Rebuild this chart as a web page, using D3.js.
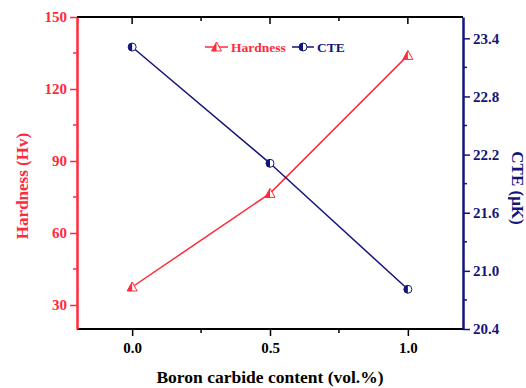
<!DOCTYPE html>
<html>
<head>
<meta charset="utf-8">
<script src="https://cdn.jsdelivr.net/npm/d3@7"></script>
<style>
body { margin: 0; background: #fff; }
text { font-family: "Liberation Serif", "Times New Roman", serif; font-weight: bold; }
</style>
</head>
<body>
<div id="chart"></div>
<script>
var contents = [0.0, 0.5, 1.0];
var hardness = [37.5, 76.5, 134];
var cte = [23.31, 22.11, 20.81];
var xTicks = [0.0, 0.5, 1.0];
var hardTicks = [30, 60, 90, 120, 150];
var cteTicks = [20.4, 21.0, 21.6, 22.2, 22.8, 23.4];

var red = "#ff2a3c",
    navy = "#14147a";

var w = 526, h = 388;
var margin = { top: 17, right: 63, bottom: 59, left: 77 };

var svg = d3.select("#chart").append("svg")
    .attr("width", w)
    .attr("height", h);

var xScale = d3.scaleLinear()
    .domain([-0.2, 1.2])
    .range([margin.left, w - margin.right]);
var yLeft = d3.scaleLinear()
    .domain([20, 150])
    .range([h - margin.bottom, margin.top]);
var yRight = d3.scaleLinear()
    .domain([20.4, 23.62])
    .range([h - margin.bottom, margin.top]);

// bottom axis
var xAxis = d3.axisBottom(xScale).tickValues(xTicks).tickFormat(d3.format(".1f")).tickSize(7).tickPadding(6);
var gx = svg.append("g")
    .attr("transform", "translate(0," + (h - margin.bottom) + ")")
    .call(xAxis);
gx.select(".domain").remove();
gx.selectAll("line").attr("stroke", "#000").attr("stroke-width", 1.5);
gx.selectAll("text").attr("font-size", 15).attr("fill", "#000");
gx.selectAll(".minor").data([0.25, 0.75]).enter().append("line")
    .attr("x1", xScale).attr("x2", xScale)
    .attr("y1", 0).attr("y2", 4)
    .attr("stroke", "#000").attr("stroke-width", 1.5);

// top ticks (inward)
var gt = svg.append("g").attr("transform", "translate(0," + margin.top + ")");
gt.selectAll("line").data([0, 0.25, 0.5, 0.75, 1.0]).enter().append("line")
    .attr("x1", xScale).attr("x2", xScale)
    .attr("y1", 0).attr("y2", function (d, i) { return i % 2 == 0 ? 7 : 4; })
    .attr("stroke", "#000").attr("stroke-width", 1.5);

// frame lines top/bottom
svg.append("line")
    .attr("x1", margin.left).attr("x2", w - margin.right)
    .attr("y1", margin.top).attr("y2", margin.top)
    .attr("stroke", "#000").attr("stroke-width", 2);
svg.append("line")
    .attr("x1", margin.left).attr("x2", w - margin.right)
    .attr("y1", h - margin.bottom).attr("y2", h - margin.bottom)
    .attr("stroke", "#000").attr("stroke-width", 2);

// left axis
var gl = svg.append("g")
    .attr("transform", "translate(" + margin.left + ",0)")
    .call(d3.axisLeft(yLeft).tickValues(hardTicks).tickSize(7).tickPadding(3).tickSizeOuter(0));
gl.select(".domain").attr("stroke", red).attr("stroke-width", 2.5);
gl.selectAll("line").attr("stroke", red).attr("stroke-width", 1.5);
gl.selectAll("text").attr("font-size", 15).attr("fill", red);
gl.selectAll(".minor").data([45, 75, 105, 135]).enter().append("line")
    .attr("y1", yLeft).attr("y2", yLeft)
    .attr("x1", 0).attr("x2", -4)
    .attr("stroke", red).attr("stroke-width", 1.5);

// right axis
var gr = svg.append("g")
    .attr("transform", "translate(" + (w - margin.right) + ",0)")
    .call(d3.axisRight(yRight).tickValues(cteTicks).tickFormat(d3.format(".1f")).tickSize(7).tickPadding(3).tickSizeOuter(0));
gr.select(".domain").attr("stroke", navy).attr("stroke-width", 2.5);
gr.selectAll("line").attr("stroke", navy).attr("stroke-width", 1.5);
gr.selectAll("text").attr("font-size", 15).attr("fill", navy);
gr.selectAll(".minor").data([20.7, 21.3, 21.9, 22.5, 23.1]).enter().append("line")
    .attr("y1", yRight).attr("y2", yRight)
    .attr("x1", 0).attr("x2", 4)
    .attr("stroke", navy).attr("stroke-width", 1.5);

// axis titles
svg.append("text")
    .attr("x", xScale(0.5)).attr("y", 383)
    .attr("text-anchor", "middle")
    .attr("font-size", 17.5)
    .text("Boron carbide content (vol.%)");
svg.append("text")
    .attr("transform", "translate(28,186) rotate(-90)")
    .attr("text-anchor", "middle")
    .attr("font-size", 17)
    .attr("fill", red)
    .text("Hardness (Hv)");
svg.append("text")
    .attr("transform", "translate(512,188) rotate(90)")
    .attr("text-anchor", "middle")
    .attr("font-size", 17)
    .attr("fill", navy)
    .text("CTE (\u03bcK)");

// lines
var hardData = contents.map(function (c, i) { return { x: c, y: hardness[i] }; });
var cteData = contents.map(function (c, i) { return { x: c, y: cte[i] }; });

svg.append("path")
    .datum(hardData)
    .attr("fill", "none").attr("stroke", red).attr("stroke-width", 1.5)
    .attr("d", d3.line().x(function (d) { return xScale(d.x); }).y(function (d) { return yLeft(d.y); }));
svg.append("path")
    .datum(cteData)
    .attr("fill", "none").attr("stroke", navy).attr("stroke-width", 1.5)
    .attr("d", d3.line().x(function (d) { return xScale(d.x); }).y(function (d) { return yRight(d.y); }));

// markers: half filled
function triangle(g, cx, cy, color) {
    var s = 5;
    g.append("path")
        .attr("d", "M" + cx + "," + (cy - s) + "L" + (cx + s) + "," + (cy + s * 0.8) + "L" + (cx - s) + "," + (cy + s * 0.8) + "Z")
        .attr("fill", "#fff").attr("stroke", color).attr("stroke-width", 1);
    g.append("path")
        .attr("d", "M" + cx + "," + (cy - s) + "L" + cx + "," + (cy + s * 0.8) + "L" + (cx - s) + "," + (cy + s * 0.8) + "Z")
        .attr("fill", color);
}
function halfCircle(g, cx, cy, color) {
    var r = 4;
    g.append("circle").attr("cx", cx).attr("cy", cy).attr("r", r)
        .attr("fill", "#fff").attr("stroke", color).attr("stroke-width", 1);
    g.append("path")
        .attr("d", "M" + cx + "," + (cy - r) + "A" + r + "," + r + " 0 0 0 " + cx + "," + (cy + r) + "Z")
        .attr("fill", color);
}

var marks = svg.append("g");
hardData.forEach(function (d) { triangle(marks, xScale(d.x), yLeft(d.y), red); });
cteData.forEach(function (d) { halfCircle(marks, xScale(d.x), yRight(d.y), navy); });

// legend
var lg = svg.append("g");
lg.append("line").attr("x1", 205).attr("x2", 228).attr("y1", 47).attr("y2", 47)
    .attr("stroke", red).attr("stroke-width", 1.5);
triangle(lg, 216.5, 47, red);
lg.append("text").attr("x", 231).attr("y", 52).attr("font-size", 13.5).attr("fill", red).text("Hardness");
lg.append("line").attr("x1", 292).attr("x2", 314).attr("y1", 47).attr("y2", 47)
    .attr("stroke", navy).attr("stroke-width", 1.5);
halfCircle(lg, 303, 47, navy);
lg.append("text").attr("x", 317).attr("y", 52).attr("font-size", 13.5).attr("fill", navy).text("CTE");
</script>
</body>
</html>
